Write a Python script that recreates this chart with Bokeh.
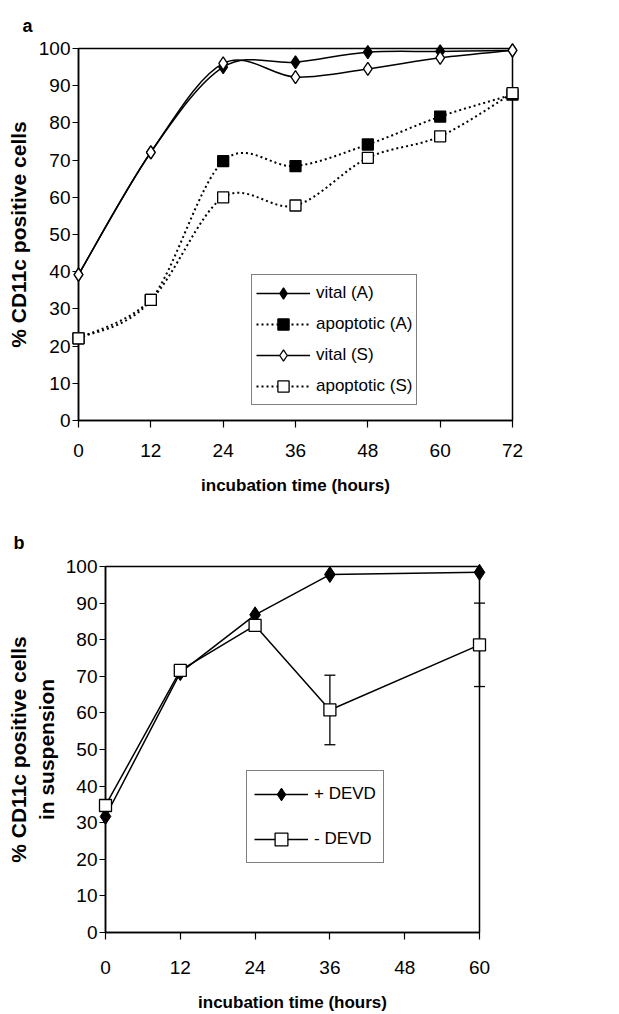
from bokeh.plotting import figure
from bokeh.models import (Range1d, FixedTicker, Legend, LegendItem, Title,
                          ColumnDataSource)
from bokeh.embed import file_html
from bokeh.resources import INLINE

# ---------------- data: panel a ----------------
hours_a = [0, 12, 24, 36, 48, 60, 72]
vital_A = [39.2, 72.1, 95.0, 96.3, 99.0, 99.2, 99.5]
apopt_A = [22.1, 32.4, 69.7, 68.4, 74.2, 81.7, 87.6]
vital_S = [39.2, 72.1, 96.0, 92.3, 94.5, 97.5, 99.5]
apopt_S = [22.1, 32.4, 60.0, 57.8, 70.6, 76.4, 88.0]
labels_a = ["vital (A)", "apoptotic (A)", "vital (S)", "apoptotic (S)"]

# ---------------- data: panel b ----------------
hours_b = [0, 12, 24, 36, 60]
plus_devd = [31.7, 71.0, 86.8, 97.8, 98.4]
minus_devd = [34.7, 71.6, 83.9, 60.8, 78.6]
minus_devd_err = [0, 0, 0, 9.5, 11.4]
labels_b = ["+ DEVD", "- DEVD"]

x_ticks_a = [0, 12, 24, 36, 48, 60, 72]
x_ticks_b = [0, 12, 24, 36, 48, 60]
y_ticks = [0, 10, 20, 30, 40, 50, 60, 70, 80, 90, 100]

FONT = "Liberation Sans"
W = 619


def smooth_segments(xs, ys):
    """Excel-style smoothed line: cubic Bezier control points from neighbours."""
    n = len(xs)
    out = dict(x0=[], y0=[], x1=[], y1=[], cx0=[], cy0=[], cx1=[], cy1=[])
    for i in range(n - 1):
        ip = max(i - 1, 0)
        inn = min(i + 2, n - 1)
        out["x0"].append(xs[i]); out["y0"].append(ys[i])
        out["x1"].append(xs[i + 1]); out["y1"].append(ys[i + 1])
        out["cx0"].append(xs[i] + (xs[i + 1] - xs[ip]) / 6.0)
        out["cy0"].append(ys[i] + (ys[i + 1] - ys[ip]) / 6.0)
        out["cx1"].append(xs[i + 1] - (xs[inn] - xs[i]) / 6.0)
        out["cy1"].append(ys[i + 1] - (ys[inn] - ys[i]) / 6.0)
    return out


def style(p, xticks, xmax, ylabel, ylabel_size, left_standoff, tick_standoff,
          label_standoff):
    p.x_range = Range1d(0, xmax)
    p.y_range = Range1d(0, 100)
    p.grid.visible = False
    p.outline_line_color = "black"
    p.outline_line_width = 1.5
    p.background_fill_color = "white"
    p.border_fill_color = "white"
    p.xaxis.ticker = FixedTicker(ticks=xticks)
    p.yaxis.ticker = FixedTicker(ticks=y_ticks)
    for ax in (p.xaxis[0], p.yaxis[0]):
        ax.axis_line_color = "black"
        ax.axis_line_width = 1.5
        ax.major_tick_in = 0
        ax.major_tick_line_width = 1.2
        ax.minor_tick_line_color = None
        ax.major_label_text_font = FONT
        ax.major_label_text_font_size = "19px"
        ax.major_label_text_color = "black"
        ax.axis_label_text_font = FONT
        ax.axis_label_text_font_style = "bold"
        ax.axis_label_text_color = "black"
    p.xaxis.major_tick_out = 7
    p.yaxis.major_tick_out = 6
    p.xaxis.major_label_standoff = tick_standoff
    p.yaxis.major_label_standoff = 2
    p.xaxis.axis_label = "incubation time (hours)"
    p.xaxis.axis_label_text_font_size = "17px"
    p.xaxis.axis_label_standoff = label_standoff
    p.yaxis.axis_label = ylabel
    p.yaxis.axis_label_text_font_size = ylabel_size
    p.yaxis.axis_label_standoff = left_standoff


def panel_letter(p, letter, offset, standoff):
    p.add_layout(Title(text=letter, align="left", offset=offset, standoff=standoff,
                       text_font=FONT, text_font_style="bold",
                       text_font_size="18px", text_color="black"), "above")


# ---------------- panel a ----------------
pa = figure(width=W, height=500, output_backend="svg", toolbar_location=None,
            min_border_left=78, min_border_right=107, min_border_top=48,
            min_border_bottom=80)
style(pa, x_ticks_a, 72, "% CD11c positive cells", "21px", 6, 16, 16)

series_a = [
    (vital_A, "solid", "diamond", 13, "black"),
    (apopt_A, "2 3", "square", 11, "black"),
    (vital_S, "solid", "diamond", 13, "white"),
    (apopt_S, "2 3", "square", 11, "white"),
]
items_a = []
for (vals, dash, marker, size, fill), lab in zip(series_a, labels_a):
    src = ColumnDataSource(smooth_segments(hours_a, vals))
    lw = 1.5 if dash == "solid" else 2
    r_line = pa.bezier(x0="x0", y0="y0", x1="x1", y1="y1", cx0="cx0", cy0="cy0",
                       cx1="cx1", cy1="cy1", source=src, line_color="black",
                       line_width=lw, line_dash=dash)
    r_pts = pa.scatter(hours_a, vals, marker=marker, size=size, fill_color=fill,
                       line_color="black", line_width=1.3, level="overlay")
    items_a.append(LegendItem(label=lab, renderers=[r_line, r_pts]))

leg_a = Legend(items=items_a, location=(173, 15), orientation="vertical",
               glyph_width=54, glyph_height=28, label_height=28, spacing=3,
               padding=4, label_standoff=6, border_line_color="black",
               border_line_width=1.2, background_fill_alpha=1,
               label_text_font=FONT, label_text_font_size="17px",
               label_text_color="black", margin=0)
pa.add_layout(leg_a, "center")
panel_letter(pa, "a", -56, 25)

# ---------------- panel b ----------------
pb = figure(width=W, height=514, output_backend="svg", toolbar_location=None,
            min_border_left=105, min_border_right=140, min_border_top=66,
            min_border_bottom=82)
style(pb, x_ticks_b, 60, "% CD11c positive cells\nin suspension", "21px", 5, 21, 16)

ex, eu, el = [], [], []
for h, m, e in zip(hours_b, minus_devd, minus_devd_err):
    if e > 0:
        ex.append(h); eu.append(m + e); el.append(m - e)
pb.segment(x0=ex, y0=el, x1=ex, y1=eu, line_color="black", line_width=1.3,
           level="overlay")
pb.scatter(ex + ex, eu + el, marker="dash", size=11, line_color="black",
           line_width=1.3, level="overlay")

l1 = pb.line(hours_b, plus_devd, line_color="black", line_width=1.5)
s1 = pb.scatter(hours_b, plus_devd, marker="diamond", size=16, fill_color="black",
                line_color="black", level="overlay")
l2 = pb.line(hours_b, minus_devd, line_color="black", line_width=1.5)
s2 = pb.scatter(hours_b, minus_devd, marker="square", size=12, fill_color="white",
                line_color="black", line_width=1.3, level="overlay")

leg_b = Legend(items=[LegendItem(label=labels_b[0], renderers=[l1, s1]),
                      LegendItem(label=labels_b[1], renderers=[l2, s2])],
               location=(141, 69), orientation="vertical",
               glyph_width=54, glyph_height=32, label_height=32, spacing=13,
               padding=7, label_standoff=6, border_line_color="black",
               border_line_width=1.2, background_fill_alpha=1,
               label_text_font=FONT, label_text_font_size="17px",
               label_text_color="black", margin=0)
pb.add_layout(leg_b, "center")
panel_letter(pb, "b", -92, 27)

open("out.html", "w").write(file_html([pa, pb], INLINE))
